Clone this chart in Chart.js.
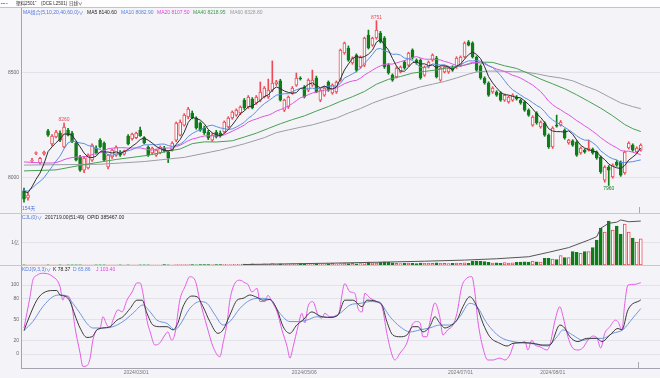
<!DOCTYPE html>
<html><head><meta charset="utf-8">
<script src="https://cdn.jsdelivr.net/npm/chart.js@4.4.0/dist/chart.umd.min.js"></script>
<style>
html,body{margin:0;padding:0;}
body{width:660px;height:378px;position:relative;overflow:hidden;background:#f4f4f8;font-family:"Liberation Sans","Noto Sans CJK SC",sans-serif;}
#top{position:absolute;left:0;top:0;width:660px;height:7px;background:#fdfdfe;border-bottom:1px solid #c3c3cb;}
.t{position:absolute;font-size:5px;line-height:6px;white-space:nowrap;}
.cv{position:absolute;left:0;}
.hl{position:absolute;left:0;width:660px;height:1px;background:#c8c8d0;}
.vm{position:absolute;width:1px;background:#a8a8b0;}
</style></head><body>
<div id="top"></div>
<canvas id="cP" class="cv" style="top:8px;width:660px;height:205px" width="660" height="205"></canvas>
<canvas id="cV" class="cv" style="top:213px;width:660px;height:52px" width="660" height="52"></canvas>
<canvas id="cK" class="cv" style="top:265px;width:660px;height:113px" width="660" height="113"></canvas>
<div class="hl" style="top:213px"></div>
<div class="hl" style="top:265px"></div>
<div class="vm" style="left:639px;top:207px;height:6px"></div>
<div class="vm" style="left:638px;top:362px;height:6px"></div>

<div class="t" style="left:1px;top:1px;font-size:4px;color:#666">▪▪▪ ▪</div>
<div class="t" style="left:16px;top:1px;font-size:4.5px;color:#333">塑料2501ˇ</div>
<div class="t" style="left:41px;top:1px;font-size:4.5px;color:#333">(DCE L2501)</div>
<div class="t" style="left:69px;top:1px;font-size:4.5px;color:#333">日线∨</div>

<div class="t" style="left:23px;top:9px;color:#4f74d8">MA组合(5,10,20,40,60,0)∨</div>
<div class="t" style="left:87px;top:9px;color:#222">MA5 8140.60</div>
<div class="t" style="left:121px;top:9px;color:#5585e0">MA10 8082.90</div>
<div class="t" style="left:157px;top:9px;color:#e040e0">MA20 8107.50</div>
<div class="t" style="left:193px;top:9px;color:#3c9a46">MA40 8218.95</div>
<div class="t" style="left:230px;top:9px;color:#999">MA60 8328.80</div>
<div class="t" style="left:22px;top:205px;color:#4f74d8">154天</div>

<div class="t" style="left:22px;top:214px;color:#4f74d8">CJL(0)∨</div>
<div class="t" style="left:45px;top:214px;color:#222">201719.00(51:49)</div>
<div class="t" style="left:87px;top:214px;color:#222">OPID 385467.00</div>

<div class="t" style="left:22px;top:266px;color:#4f74d8">KDJ(9,3,3)∨</div>
<div class="t" style="left:53px;top:266px;color:#222">K 78.37</div>
<div class="t" style="left:73px;top:266px;color:#5585e0">D 65.86</div>
<div class="t" style="left:96px;top:266px;color:#e040e0">J 103.40</div>

<script>
const FONT = '"Liberation Sans","Noto Sans CJK SC",sans-serif';
// ---- candles (daily) ----
const openP = [7935,7900,8078,8114,8068,8111,8222,8159,8193,8212,
8145,8226,8212,8164,8097,8034,8044,8082,8140,8178,
8164,8049,8097,8106,8121,8110,8197,8183,8190,8226,
8190,8145,8116,8106,8116,8140,8121,8130,8178,8202,
8250,8289,8308,8284,8260,8236,8217,8178,8217,8212,
8217,8241,8284,8298,8308,8370,8337,8375,8356,8370,
8385,8385,8418,8448,8462,8322,8337,8404,8442,8476,
8433,8418,8442,8476,8370,8394,8457,8404,8409,8466,
8596,8620,8548,8586,8529,8538,8682,8634,8668,8692,
8668,8538,8490,8481,8505,8553,8538,8610,8562,8562,
8490,8529,8562,8572,8466,8505,8505,8529,8529,8538,
8577,8649,8644,8577,8534,8476,8452,8409,8409,8404,
8370,8361,8370,8385,8370,8361,8322,8250,8308,8241,
8260,8202,8145,8250,8250,8226,8164,8174,8169,8116,
8130,8130,8135,8121,8097,7986,8049,8001,8073,8073,
8020,8140,8154,8121,8130];
const highP = [7948,7925,8090,8122,8095,8125,8230,8205,8225,8222,
8260,8235,8220,8170,8105,8100,8112,8160,8150,8185,
8170,8110,8135,8150,8128,8130,8205,8212,8216,8240,
8195,8150,8145,8135,8150,8148,8128,8170,8265,8275,
8305,8335,8318,8290,8265,8245,8225,8210,8225,8222,
8270,8290,8318,8328,8342,8378,8392,8382,8392,8457,
8435,8471,8558,8465,8470,8375,8390,8435,8500,8482,
8440,8472,8514,8485,8425,8435,8462,8448,8462,8615,
8649,8630,8578,8592,8582,8672,8706,8672,8751,8700,
8675,8545,8496,8530,8534,8560,8600,8616,8568,8568,
8534,8558,8592,8580,8530,8534,8530,8535,8578,8582,
8650,8656,8650,8582,8540,8482,8458,8434,8415,8410,
8400,8390,8400,8392,8376,8366,8328,8295,8314,8270,
8266,8208,8242,8298,8272,8232,8182,8180,8175,8145,
8136,8178,8140,8126,8102,8055,8056,8064,8080,8078,
8126,8170,8160,8146,8160];
const lowP = [7880,7890,8070,8108,8062,8105,8195,8150,8188,8170,
8140,8198,8165,8078,8028,8022,8040,8075,8110,8140,
8075,8040,8090,8100,8100,8105,8155,8178,8185,8195,
8160,8100,8110,8100,8112,8120,8070,8125,8170,8198,
8245,8280,8280,8230,8220,8205,8180,8172,8188,8192,
8212,8236,8278,8292,8300,8325,8330,8328,8350,8362,
8380,8378,8410,8440,8365,8315,8330,8398,8436,8466,
8380,8410,8436,8405,8362,8388,8412,8398,8402,8460,
8590,8556,8542,8505,8522,8530,8615,8628,8662,8644,
8522,8494,8460,8476,8500,8518,8532,8566,8542,8470,
8484,8524,8556,8476,8460,8500,8498,8508,8522,8532,
8572,8630,8572,8508,8470,8446,8388,8402,8388,8364,
8364,8355,8364,8370,8350,8316,8292,8244,8254,8235,
8196,8138,8138,8240,8245,8182,8158,8148,8100,8110,
8115,8125,8110,8086,8018,7976,7960,7995,8052,8004,
8014,8135,8124,8115,8125];
const closeP = [7894,7914,8082,8118,8090,8121,8202,8197,8217,8178,
8241,8202,8169,8082,8034,8092,8106,8154,8116,8145,
8082,8106,8130,8145,8106,8125,8160,8207,8212,8198,
8164,8106,8140,8130,8145,8126,8092,8164,8260,8265,
8298,8327,8284,8236,8226,8212,8188,8202,8193,8198,
8265,8284,8313,8322,8337,8332,8385,8332,8385,8409,
8428,8418,8452,8458,8370,8370,8385,8428,8476,8472,
8385,8466,8466,8409,8418,8428,8418,8442,8457,8610,
8644,8562,8572,8514,8577,8668,8620,8668,8706,8649,
8529,8500,8466,8524,8529,8524,8596,8572,8548,8476,
8529,8553,8586,8481,8524,8529,8524,8514,8572,8577,
8644,8634,8577,8514,8476,8452,8394,8428,8394,8370,
8394,8385,8394,8375,8356,8322,8298,8289,8260,8265,
8202,8145,8236,8245,8265,8188,8178,8154,8106,8140,
8121,8140,8116,8092,8025,8049,8034,8058,8058,8010,
8121,8164,8130,8140,8154];
// ---- moving averages read per candle ----
const ma5 = [7930.8,7925.6,7954,7989.6,8019.6,8065,8122.6,8145.6,8165.4,8183,
8207,8207,8201.4,8174.4,8145.6,8115.8,8096.6,8093.6,8100.4,8122.6,
8120.6,8120.6,8115.8,8121.6,8113.8,8122.4,8133.2,8148.6,8162,8180.4,
8188.2,8177.4,8164,8147.6,8137,8129.4,8126.6,8131.4,8157.4,8181.4,
8215.8,8262.8,8286.8,8282,8274.2,8257,8229.2,8212.8,8204.2,8198.6,
8209.2,8228.4,8250.6,8276.4,8304.2,8317.6,8337.8,8341.6,8354.2,8368.6,
8387.8,8394.4,8418.4,8433,8425.2,8413.6,8407,8402.2,8405.8,8426.2,
8429.2,8445.4,8453,8439.6,8428.8,8437.4,8427.8,8423,8432.6,8471,
8514.2,8543,8569,8580.4,8573.8,8578.6,8590.2,8609.4,8647.8,8662.2,
8634.4,8610.4,8570,8533.6,8509.6,8508.6,8527.8,8549,8553.8,8543.2,
8544.2,8535.6,8538.4,8525,8534.6,8534.6,8528.8,8514.4,8532.6,8543.2,
8566.2,8588.2,8600.8,8589.2,8569,8530.6,8482.6,8452.8,8428.8,8407.6,
8396,8394.2,8387.4,8383.6,8380.8,8366.4,8349,8328,8305,8286.8,
8262.8,8232.2,8221.6,8218.6,8218.6,8215.8,8222.4,8206,8178.2,8153.2,
8139.8,8132.2,8124.6,8121.8,8098.8,8084.4,8063.2,8051.6,8044.8,8041.8,
8056.2,8082.2,8096.6,8113,8140.6];
const ma10 = [7935,7932.8,7947,7964.8,7979.8,7997.5,8024.1,8049.8,8077.5,8101.3,
8136,8164.8,8173.5,8169.9,8164.3,8161.4,8151.8,8147.5,8137.4,8134.1,
8118.2,8108.6,8104.7,8111,8118.2,8121.5,8126.9,8132.2,8141.8,8147.1,
8155.3,8155.3,8156.3,8154.8,8158.7,8158.8,8152,8147.7,8152.5,8159.2,
8172.6,8194.7,8209.1,8219.7,8227.8,8236.4,8246,8249.8,8243.1,8236.4,
8233.1,8228.8,8231.7,8240.3,8251.4,8263.4,8283.1,8296.1,8315.3,8336.4,
8352.7,8366.1,8380,8393.6,8396.9,8400.7,8400.7,8410.3,8419.4,8425.7,
8421.4,8426.2,8427.6,8422.7,8427.5,8433.3,8436.6,8438,8436.1,8449.9,
8475.8,8485.4,8496,8506.5,8522.4,8546.4,8566.6,8589.2,8614.1,8618,
8606.5,8600.3,8589.7,8590.7,8585.9,8571.5,8569.1,8559.5,8543.7,8526.4,
8526.4,8531.7,8543.7,8539.4,8538.9,8539.4,8532.2,8526.4,8528.8,8538.9,
8550.4,8558.5,8557.6,8560.9,8556.1,8548.4,8535.4,8526.8,8509,8488.3,
8463.3,8438.4,8420.1,8406.2,8394.2,8381.2,8371.6,8357.7,8344.3,8333.8,
8314.6,8290.6,8274.8,8261.8,8252.7,8239.3,8227.3,8213.8,8198.4,8185.9,
8177.8,8177.3,8165.3,8150,8126,8112.1,8097.7,8088.1,8083.3,8070.3,
8070.3,8072.7,8074.1,8078.9,8082.9];
const ma20 = [8073,8072,8071,8070,8069,8068,8068,8068,8070,8076,
8084,8090,8094,8096,8097,8098,8102,8108,8113,8117.7,
8127.1,8136.7,8139.1,8140.5,8141.3,8141.5,8139.4,8139.9,8139.6,8140.6,
8136.8,8132,8130.5,8132.9,8138.5,8140.2,8139.5,8140,8147.2,8153.2,
8164,8175,8182.7,8187.3,8193.3,8197.6,8199,8198.8,8197.8,8197.8,
8202.9,8211.8,8220.4,8230,8239.6,8249.9,8264.6,8273,8279.2,8286.4,
8292.9,8297.5,8305.9,8317,8324.2,8332.1,8341.9,8353.2,8367.4,8381,
8387,8396.2,8403.8,8408.2,8412.2,8417,8418.7,8424.2,8427.8,8437.8,
8448.6,8455.8,8461.8,8464.6,8475,8489.9,8501.6,8513.6,8525.1,8534,
8541.2,8542.9,8542.9,8548.6,8554.2,8559,8567.9,8574.4,8578.9,8572.2,
8566.5,8566,8566.7,8565.1,8562.4,8555.5,8550.7,8543,8536.3,8532.7,
8538.4,8545.1,8550.7,8550.2,8547.5,8543.9,8533.8,8526.6,8518.9,8513.6,
8506.9,8498.5,8488.9,8483.6,8475.2,8464.8,8453.5,8442.3,8426.7,8411.1,
8389,8364.5,8347.5,8334,8323.5,8310.3,8299.5,8285.8,8271.4,8259.9,
8246.2,8234,8220.1,8205.9,8189.4,8175.7,8162.5,8151,8140.9,8128.1,
8124.1,8125,8119.7,8114.5,8107.5];
const ma40Idx = [0,8,15,23,31,36,39,42,45,48,52,55,58,61,64,67,70,73,76,79,82,85,88,91,94,97,100,103,106,109,112,114,117,120,123,126,129,132,135,138,141,144,147,150,152,154];
const ma40Val = [8030,8035,8060,8085,8105,8125,8135.4,8160.9,8169.5,8168.7,8174.7,8192.4,8211.1,8233.9,8256.4,8276.2,8294.1,8317.4,8338.9,8363.8,8386,8411.3,8446.1,8469.5,8483.2,8499.3,8507.5,8514.8,8526.1,8533.3,8546.8,8552.2,8551.1,8534.6,8521.9,8497.4,8470.7,8448,8424.2,8395.3,8363.6,8331.1,8294.3,8252.7,8232.8,8218.95];
const ma60Idx = [0,10,19,30,40,49,55,60,63,66,69,72,75,78,81,84,87,90,93,96,99,102,105,108,111,113,116,119,122,125,128,131,134,137,140,143,146,149,152,154];
const ma60Val = [8058,8060,8062,8075,8095,8130,8160,8189.6,8213.6,8226.8,8239.5,8251.1,8267.3,8283.3,8307.9,8329.3,8355.3,8376.5,8394.5,8415.3,8433.3,8446.2,8459.4,8476.2,8494.7,8504.7,8509.3,8508.8,8506.2,8505,8496.2,8484.4,8475.9,8462.6,8438.5,8416.6,8385.8,8356.5,8338.6,8328.8];
// ---- high / low marks ----
const markIdx = [10, 88, 146];
const markVal = [8260, 8751, 7960];
const markUp  = [true, true, false];
// ---- volume (亿) and open interest ----
const volume = [0.01,0.01,0.01,0.01,0.01,0.01,0.01,0.01,0.01,0.01,
0.01,0.01,0.01,0.01,0.01,0.01,0.01,0.01,0.01,0.01,
0.01,0.01,0.01,0.01,0.01,0.01,0.01,0.01,0.01,0.01,
0.01,0.01,0.01,0.01,0.01,0.02,0.01,0.01,0.02,0.02,
0.02,0.02,0.02,0.01,0.02,0.02,0.02,0.02,0.02,0.02,
0.03,0.02,0.03,0.03,0.03,
0.04,0.03,0.05,0.04,0.03,0.05,0.04,0.06,0.04,0.05,0.03,0.04,0.05,0.04,0.06,0.05,0.04,0.05,0.06,0.04,0.05,0.06,
0.07,0.05,0.06,0.08,0.06,0.07,0.05,0.06,
0.12,0.13,0.10,
0.08,0.12,0.14,0.13,0.10,
0.07,0.06,0.08,0.09,0.07,0.06,0.09,0.08,
0.08,0.07,0.10,0.08,0.07,0.06,0.08,0.09,0.07,0.10,0.08,
0.16,0.18,0.17,0.15,0.12,
0.09,0.10,0.08,0.11,0.09,0.10,0.12,0.13,0.14,
0.13,0.18,0.14,0.13,
0.30,0.30,0.26,0.24,0.42,0.33,0.33,0.60,0.57,0.52,0.60,0.60,0.78,
1.12,1.66,1.48,1.97,1.57,1.75,1.39,1.84,1.48,1.21,1.03,1.17];
const oiIdx = [55,62,76,90,100,110,118,126,131,136,141,143,144,146,148,149,151,154];
const oiVal = [0.02,0.04,0.08,0.13,0.17,0.22,0.28,0.37,0.57,0.78,1.12,1.27,1.65,1.87,1.92,2.02,1.94,1.97];
// ---- KDJ ----
const kIdx = [0,1.5,3.2,4.7,7.2,8.2,9.0,10.2,11.5,12.7,14.0,15.7,17.0,18.2,19.7,21.5,23.2,24.7,26.5,28.2,29.5,30.7,32.2,33.9,35.7,37.2,38.4,39.7,41.9,43.2,44.7,46.4,48.4,49.7,51.4,53.2,54.7,56.4,58.2,59.7,61.4,63.2,64.7,66.4,68.1,69.6,71.9,73.9,76.4,78.4,80.1,82.1,84.4,85.6,88.1,89.4,90.6,92.1,93.9,95.6,97.1,98.4,99.6,101.3,102.6,103.8,105.1,106.8,108.1,109.6,111.3,113.1,114.6,116.3,118.8,120.6,122.1,124.6,127.1,129.6,131.3,133.8,135.0,136.3,138.3,140.5,143.0,144.3,146.3,148.3,149.3,150.8,154];
const kVal = [34,56.5,78,88,92,92,85.5,84,76,56.5,37.7,24,25,35,37.7,39.6,49,54,66,78,78,59,42,39.6,39.6,35,44.4,68.6,84,83,68.6,47,30,35,56.5,78,80.7,85.5,82,78,79,64,39.6,30,42,49,61,55,53,56.5,78,78,68.6,78,76,71,47,27.5,25,27.5,39.6,39.6,32,39.6,54,45,37.7,42,49,68.6,83,68.6,44.4,25,15.5,11.6,15.5,16.4,15.5,13,13,42,37.7,25,18,22.7,22.7,18,27.5,37,35,64,78.37];
const dIdx = [0,2.2,4.7,7.2,9.0,10.7,12.2,14.0,15.7,17.2,19.7,22.2,24.7,27.2,29.7,31.5,33.2,35.7,37.7,38.9,41.4,43.9,45.7,47.7,49.7,51.4,53.9,56.4,58.9,61.4,63.9,66.4,68.4,70.6,73.1,76.4,78.9,81.4,83.9,86.4,88.9,91.4,93.9,96.4,98.9,101.3,103.8,106.3,108.8,111.3,113.1,115.6,118.8,122.1,126.3,130.6,133.1,134.6,137.0,139.5,142.0,144.5,147.0,149.5,152.0,154];
const dVal = [34,47,68.6,83,85.5,84,73.4,59,44.4,37.7,37.7,39.6,47,59,71,61,49,44.4,35,42,66,76,73.4,56.5,42,47,66,78,80.7,79,59,47,47,49,54,53,59,71,73.4,76,73.4,54,39.6,32,35,37.7,42,42,54,73.4,68.6,44.4,25,18,15.5,11.6,25,35,27.5,20,22.7,22.7,30,35,52,65.86];
const jIdx = [0,1.5,2.2,3.2,4.7,7.0,9.0,9.7,10.2,11.0,12.0,12.7,14.0,14.7,15.7,16.5,17.2,18.2,19.0,19.7,20.7,21.5,22.2,23.5,24.5,25.7,27.0,28.2,29.0,29.7,30.7,31.5,32.7,33.9,35.2,35.9,36.9,37.7,38.9,40.2,41.4,42.7,43.9,45.7,47.2,48.9,49.7,50.7,51.4,52.7,53.9,55.2,55.9,56.9,58.2,58.9,60.2,60.9,61.9,63.2,64.4,65.7,66.4,67.2,68.4,69.4,70.1,70.9,72.1,73.4,74.4,75.1,76.4,78.4,80.1,81.4,82.6,83.4,84.4,85.1,86.4,88.1,89.4,90.6,91.9,92.6,93.9,95.6,96.9,98.1,98.9,99.6,100.6,101.3,102.6,103.8,104.6,105.8,107.1,108.1,109.3,110.6,111.8,112.6,113.3,114.6,115.8,117.1,118.8,120.1,121.3,122.6,123.8,125.1,125.8,126.8,127.6,128.8,130.6,131.3,132.6,133.8,134.6,135.8,137.0,138.3,139.5,140.8,142.0,143.0,144.0,145.0,146.3,147.6,148.3,149.3,150.0,150.8,152.5,154];
const jVal = [37.7,83,107,114,117,113,97.6,78,84,84,68.6,39.6,1.4,-18,-17,-6,20,35,37,54,42,38,49,64,61,78,90,103,103,88,49,32,13,16,27.5,32,20,30,78,97.6,112,107,78,39.6,10.6,-4,16,45,78,103,107,103,101,90,95,76,76,85,76,61,35,10.6,-6,10.6,39.6,59,45,68.6,76,56.5,52,59,54,56.5,102,90,88,66,61,88,81,76,68.6,30,-1.4,-8.7,1.4,16,42,47,45,25,25,45,74,54,27.5,35,42,59,97.6,110,112,88,49,8.7,-8.7,-8.7,-6,-8.7,-1.4,16,16,18,5.8,20,13,10.6,5.8,13,49,68.6,54,25,8.7,5.8,8.7,20,26,24,8.7,30,39.6,49,47,35,73,100,101,103.4];
// ---- axis labels ----
const priceTicks = [8000, 8500];
const volTicks = [1];
const volTickLabels = ['1亿'];
const kdjTicks = [0, 20, 50, 80, 100];
const dateIdx = [28, 70, 109, 132];
const dateLbl = ['2024/03/01', '2024/05/06', '2024/07/01', '2024/08/01'];

// ---- styles ----
const UP = '#ee4a55', DOWN = '#0f7d18', HOLLOW = '#ffffff';
const X_MIN = -0.75, X_MAX = 158.8;
const isUp = i => closeP[i] >= openP[i];
const pts = (xs, ys) => xs.map((x, k) => ({x: x, y: ys[k]}));
const seq = ys => ys.map((y, i) => ({x: i, y: y}));

function yAxis(min, max, ticks, labelFn) {
  return {
    type: 'linear', position: 'left', min: min, max: max,
    afterBuildTicks: s => { s.ticks = ticks.map(v => ({value: v})); },
    afterFit: s => { s.width = 21; s.paddingTop = 0; s.paddingBottom = 0; },
    ticks: {font: {size: 5, family: FONT}, color: '#666', padding: 2, autoSkip: false, callback: labelFn},
    grid: {color: '#e2e2ea', lineWidth: 1, drawTicks: false},
    border: {display: true, color: '#a4a4ae', width: 1}
  };
}
const hiddenX = {type: 'linear', min: X_MIN, max: X_MAX, display: false, offset: false};
const baseOpts = {
  responsive: false, animation: false, devicePixelRatio: 1, events: [],
  layout: {padding: 0},
  plugins: {legend: {display: false}, tooltip: {enabled: false}}
};
const line = (data, color, order) => ({type: 'line', data: data, borderColor: color, borderWidth: 1, pointRadius: 0, tension: 0, order: order});

const markPlugin = {
  id: 'marks',
  afterDatasetsDraw(chart) {
    const c = chart.ctx, x = chart.scales.x, y = chart.scales.y;
    c.save();
    c.font = '5px ' + FONT;
    c.textAlign = 'center';
    markIdx.forEach((m, k) => {
      const px = x.getPixelForValue(m), py = y.getPixelForValue(markVal[k]);
      c.fillStyle = markUp[k] ? UP : DOWN;
      c.textBaseline = markUp[k] ? 'bottom' : 'top';
      c.fillText(String(markVal[k]), px, markUp[k] ? py - 0.5 : py + 1);
    });
    c.restore();
  }
};

new Chart(document.getElementById('cP'), {
  type: 'bar',
  data: {datasets: [
    line(seq(ma5), '#2e2e2e', 0),
    line(seq(ma10), '#5b8ee0', 0),
    line(seq(ma20), '#e052e0', 0),
    line(pts(ma40Idx, ma40Val), '#48a052', 0),
    line(pts(ma60Idx, ma60Val), '#9c9ca4', 0),
    {type: 'bar', data: openP.map((o, i) => ({x: i, y: [o, closeP[i]]})),
     backgroundColor: ctx => isUp(ctx.dataIndex) ? HOLLOW : DOWN,
     borderColor: ctx => isUp(ctx.dataIndex) ? UP : DOWN,
     borderWidth: 1, borderSkipped: false, barThickness: 3, grouped: false, order: 1},
    {type: 'bar', data: lowP.map((l, i) => ({x: i, y: [l, highP[i]]})),
     backgroundColor: ctx => isUp(ctx.dataIndex) ? UP : DOWN,
     borderWidth: 0, barThickness: 1, grouped: false, order: 2}
  ]},
  options: Object.assign({}, baseOpts, {
    scales: {x: hiddenX, y: yAxis(7828, 8812, priceTicks, v => String(v))}
  }),
  plugins: [markPlugin]
});

new Chart(document.getElementById('cV'), {
  type: 'bar',
  data: {datasets: [
    line(pts(oiIdx, oiVal), '#555', 0),
    {type: 'bar', data: seq(volume),
     backgroundColor: ctx => isUp(ctx.dataIndex) ? HOLLOW : DOWN,
     borderColor: ctx => isUp(ctx.dataIndex) ? UP : DOWN,
     borderWidth: 1, borderSkipped: false, barThickness: 3, grouped: false, order: 1}
  ]},
  options: Object.assign({}, baseOpts, {
    scales: {x: hiddenX, y: yAxis(0, 2.332, volTicks, (v, i) => volTickLabels[i])}
  })
});

const kdjLine = (data, color, order) => Object.assign(line(data, color, order), {cubicInterpolationMode: 'monotone'});
new Chart(document.getElementById('cK'), {
  type: 'line',
  data: {datasets: [
    kdjLine(pts(jIdx, jVal), '#e65ae6', 2),
    kdjLine(pts(dIdx, dVal), '#6f95dc', 1),
    kdjLine(pts(kIdx, kVal), '#3a3a3a', 0)
  ]},
  options: Object.assign({}, baseOpts, {
    scales: {
      x: {type: 'linear', min: X_MIN, max: X_MAX, position: 'bottom', offset: false,
          afterBuildTicks: s => { s.ticks = dateIdx.map(v => ({value: v})); },
          afterFit: s => { s.height = 10; s.paddingLeft = 0; s.paddingRight = 0; },
          ticks: {font: {size: 5, family: FONT}, color: '#777', padding: 2, maxRotation: 0, autoSkip: false,
                  callback: (v, i) => dateLbl[i]},
          grid: {display: false, drawTicks: false},
          border: {display: true, color: '#a4a4ae', width: 1}},
      y: yAxis(-20.29, 129, kdjTicks, v => String(v))
    }
  })
});
</script>
</body></html>
